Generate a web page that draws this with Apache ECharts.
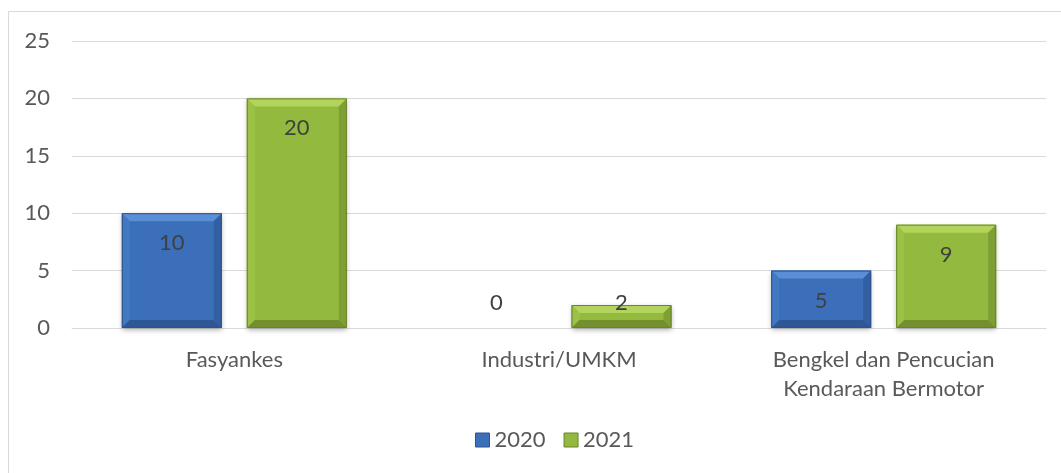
<!DOCTYPE html>
<html>
<head>
<meta charset="utf-8">
<script src="https://cdn.jsdelivr.net/npm/echarts@6/dist/echarts.min.js"></script>
<style>
html,body{margin:0;padding:0;background:#fff;}
#c{width:1061px;height:473px;}
</style>
</head>
<body>
<div id="c"></div>
<script>
const categories = ['Fasyankes', 'Industri/UMKM', 'Bengkel dan Pencucian\nKendaraan Bermotor'];
const seriesNames = ['2020', '2021'];
const values2020 = [10, 0, 5];
const values2021 = [20, 2, 9];
const yTicks = [0, 5, 10, 15, 20, 25];

const FONT = 'Lato, "Open Sans", sans-serif';
const FSIZE = 22;
const TXT = '#595959';
const BAR_W = 100;
const GAP = 25;

const palettes = [
  {face: '#3b6fb9', top: '#5a8ed6', left: '#4277c2', right: '#325fa2', bottom: '#2d5795', edge: '#2b548f'},
  {face: '#93b93f', top: '#b3d45c', left: '#9bc146', right: '#7f9f34', bottom: '#738f2e', edge: '#6a842a'}
];

function bevelRenderer(sIdx) {
  const pal = palettes[sIdx];
  return function (params, api) {
    const ci = api.value(0);
    const v = api.value(1);
    const base = api.coord([ci, 0]);
    const topP = api.coord([ci, v]);
    const off = (sIdx === 0 ? -1 : 1) * (BAR_W + GAP) / 2;
    const cx = base[0] + off;
    const x0 = cx - BAR_W / 2, x1 = cx + BAR_W / 2;
    const y0 = topP[1], y1 = base[1];
    const children = [];
    const h = y1 - y0;
    if (h > 0.5) {
      const b = Math.min(8, h / 2);
      children.push({type: 'rect', shape: {x: x0, y: y0, width: BAR_W, height: h},
        style: {fill: pal.face, shadowColor: 'rgba(0,0,0,0.3)', shadowBlur: 5, shadowOffsetY: 2}});
      children.push({type: 'polygon', shape: {points: [[x0, y0], [x1, y0], [x1 - b, y0 + b], [x0 + b, y0 + b]]}, style: {fill: pal.top}});
      children.push({type: 'polygon', shape: {points: [[x0, y0], [x0 + b, y0 + b], [x0 + b, y1 - b], [x0, y1]]}, style: {fill: pal.left}});
      children.push({type: 'polygon', shape: {points: [[x1, y0], [x1, y1], [x1 - b, y1 - b], [x1 - b, y0 + b]]}, style: {fill: pal.right}});
      children.push({type: 'polygon', shape: {points: [[x0, y1], [x0 + b, y1 - b], [x1 - b, y1 - b], [x1, y1]]}, style: {fill: pal.bottom}});
      children.push({type: 'rect', shape: {x: x0 + 0.5, y: y0 + 0.5, width: BAR_W - 1, height: h - 1},
        style: {fill: 'none', stroke: pal.edge, lineWidth: 1}});
    }
    const ly = Math.min(y0 + 30, y1 - 25);
    children.push({type: 'text', style: {text: String(v), x: cx, y: ly, align: 'center', verticalAlign: 'middle',
      font: FSIZE + 'px ' + FONT, fill: '#404040'}});
    return {type: 'group', children: children};
  };
}

function toPairs(vals) { return vals.map((v, i) => [i, v]); }

const chart = echarts.init(document.getElementById('c'));
chart.setOption({
  animation: false,
  graphic: [{
    type: 'rect',
    shape: {x: 8.5, y: 11.5, width: 1100, height: 500},
    style: {fill: 'none', stroke: '#d9d9d9', lineWidth: 1},
    silent: true
  }],
  grid: {left: 72, right: 15, top: 41, bottom: 145},
  legend: {
    bottom: 17,
    left: 470,
    itemWidth: 14,
    itemHeight: 14,
    itemGap: 18,
    icon: 'rect',
    textStyle: {fontFamily: FONT, fontSize: FSIZE, color: TXT},
    data: seriesNames.map((n, i) => ({
      name: n,
      itemStyle: {color: palettes[i].face, opacity: 1, borderColor: palettes[i].edge, borderWidth: 1}
    }))
  },
  xAxis: {
    type: 'category',
    data: categories,
    axisLine: {lineStyle: {color: '#d9d9d9', width: 1}},
    axisTick: {show: false},
    axisLabel: {fontFamily: FONT, fontSize: FSIZE, color: TXT, margin: 17, lineHeight: 29}
  },
  yAxis: {
    type: 'value',
    min: 0,
    max: 25,
    interval: 5,
    axisLine: {show: false},
    axisTick: {show: false},
    splitLine: {lineStyle: {color: '#d9d9d9', width: 1}},
    axisLabel: {fontFamily: FONT, fontSize: FSIZE, color: TXT, margin: 22}
  },
  series: [
    {
      name: seriesNames[0], type: 'bar', data: values2020, barWidth: BAR_W, barGap: '25%',
      itemStyle: {color: palettes[0].face, opacity: 0}, silent: true
    },
    {
      name: seriesNames[1], type: 'bar', data: values2021, barWidth: BAR_W, barGap: '25%',
      itemStyle: {color: palettes[1].face, opacity: 0}, silent: true
    },
    {type: 'custom', renderItem: bevelRenderer(0), data: toPairs(values2020), encode: {x: 0, y: 1}, z: 5, silent: true},
    {type: 'custom', renderItem: bevelRenderer(1), data: toPairs(values2021), encode: {x: 0, y: 1}, z: 5, silent: true}
  ]
});
</script>
</body>
</html>
